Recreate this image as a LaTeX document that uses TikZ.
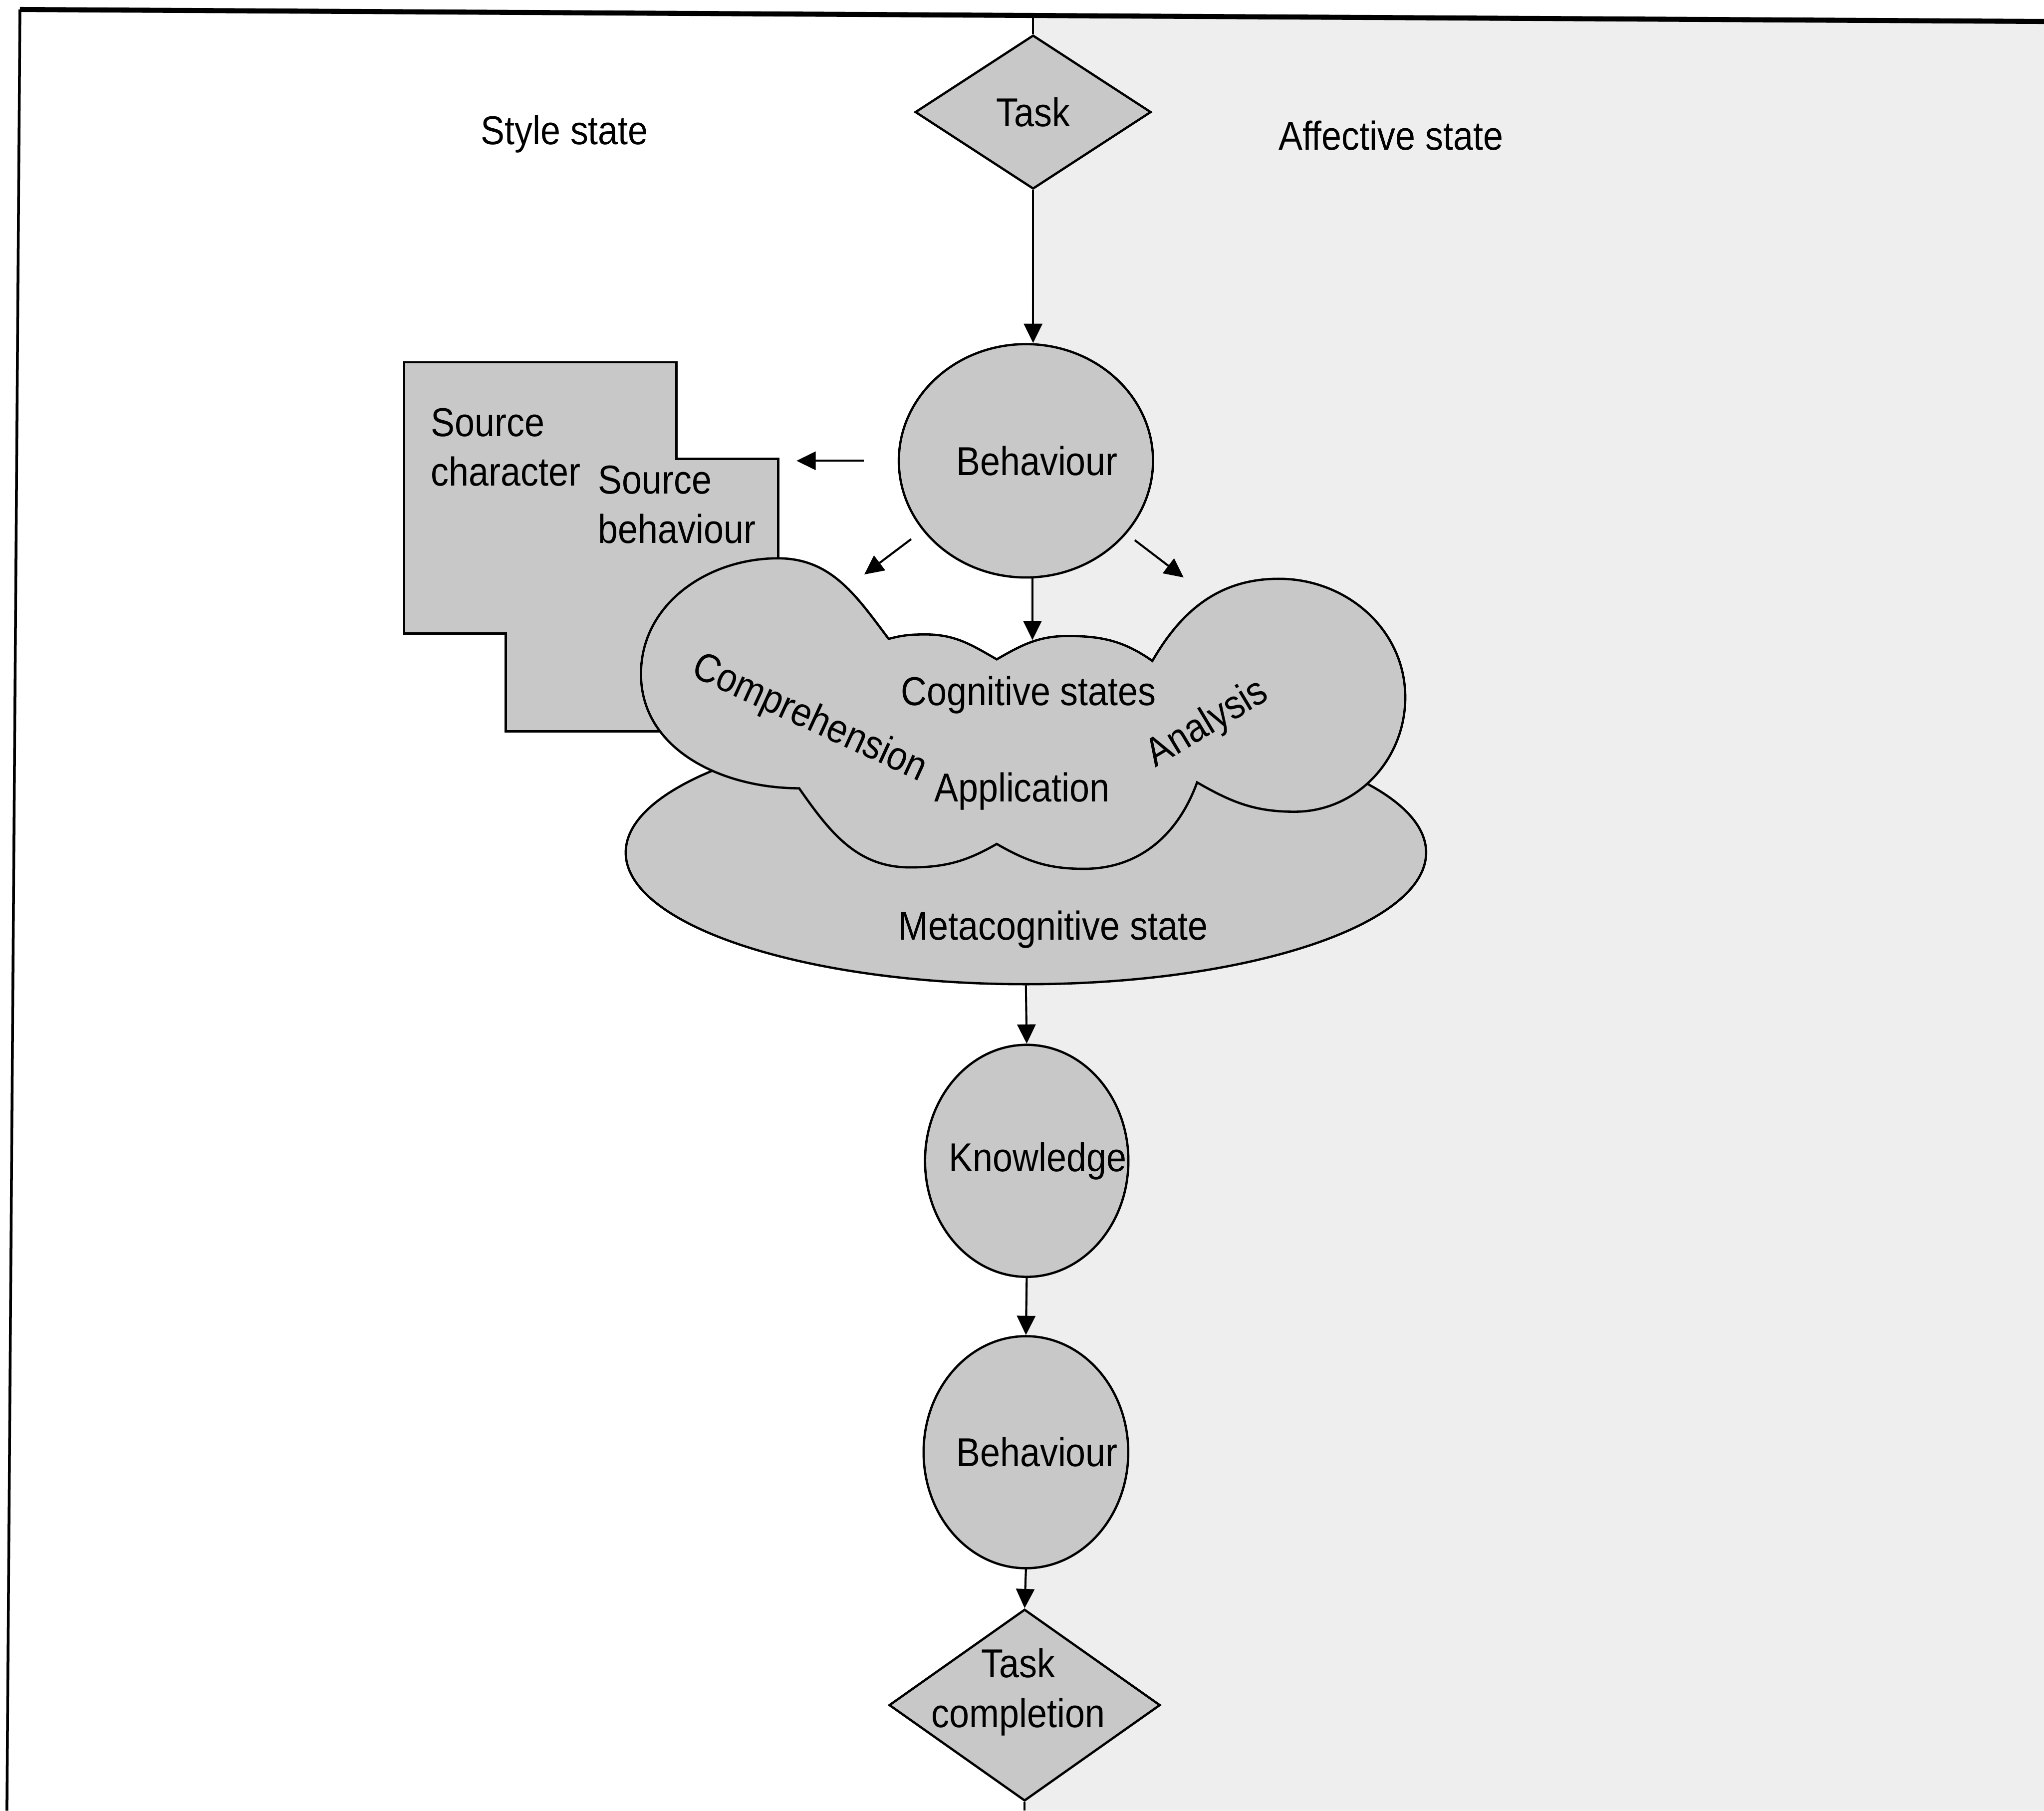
\documentclass[tikz,border=0pt]{standalone}
\usepackage{fontspec}
\setmainfont{Liberation Sans}[FakeStretch=0.89]
\usepackage{tikz}
\usetikzlibrary{shapes.geometric,arrows.meta,positioning,calc}
\definecolor{nodeGray}{RGB}{200,200,200}
\definecolor{paneGray}{RGB}{238,238,238}

\begin{document}
\begin{tikzpicture}[
    lbl/.style={font=\fontsize{8.8pt}{10.8pt}\selectfont, inner sep=0pt},
    state/.style={ellipse, draw, fill=nodeGray, line width=0.5pt, inner sep=0pt},
    statelbl/.style={lbl, xshift=0.85mm},
    decision/.style={diamond, draw, fill=nodeGray, line width=0.5pt, lbl},
    arr/.style={->, line width=0.45pt},
    >={Triangle[length=4.2pt,width=4pt]}
  ]
  \useasboundingbox (0,0) rectangle (15.68,13.89);
  % affective half and frame
  \fill[paneGray] (7.925,13.775) -- (15.68,13.725) -- (15.68,0) -- (7.86,0) -- cycle;
  \draw[line width=0.6pt] (0.053,0) -- (0.153,13.817);
  \draw[line width=1.1pt] (0.153,13.817) -- (15.68,13.725);
  \coordinate (divtop) at (7.925,13.775);
  \coordinate (divbot) at (7.86,0);

  \node[lbl] (style) at (4.33,12.86) {Style state};
  \node[lbl] (affect) at (10.67,12.85) {Affective state};

  % source box
  \draw[fill=nodeGray, line width=0.5pt] (3.10,11.11) -- (5.19,11.11) -- (5.19,10.37)
    -- (5.97,10.37) -- (5.97,8.28) -- (3.88,8.28) -- (3.88,9.03) -- (3.10,9.03) -- cycle;
  \coordinate (srcB) at (5.97,10.37);
  \node[lbl, anchor=west, align=left] (srcchar) at (3.30,10.46) {Source\\character};
  \node[lbl, anchor=west, align=left] (srcbeh) at (4.58,10.02) {Source\\behaviour};

  % axis nodes
  \node[decision, minimum width=1.81cm, minimum height=1.18cm] (task) at (7.925,13.03) {Task};
  \node[state, minimum width=1.95cm, minimum height=1.79cm,
    label={[statelbl]center:Behaviour}] (beh) at (7.87,10.355) {};
  \node[state, minimum width=6.14cm, minimum height=2.02cm] (meta) at (7.87,7.35) {};

  % cloud of cognitive states
  \draw[fill=nodeGray, line width=0.5pt]
    (6.817,8.989) to[out=15,in=180] (7.10,9.023) to[out=0,in=150] (7.646,8.832)
    to[out=30,in=180] (8.192,9.011) to[out=0,in=145] (8.84,8.82)
    to[out=60,in=180] (9.81,9.45) to[out=0,in=90] (10.78,8.54)
    to[out=-90,in=0] (9.93,7.663) to[out=180,in=-30] (9.183,7.888)
    to[out=-110,in=0] (8.314,7.225) to[out=180,in=-30] (7.646,7.416)
    to[out=-150,in=0] (6.979,7.236) to[out=180,in=-55] (6.13,7.843)
    to[out=180,in=-90] (4.917,8.72) to[out=90,in=180] (5.968,9.607)
    to[out=0,in=127] (6.817,8.989) -- cycle;
  \node[lbl] (cogn) at (7.89,8.56) {Cognitive states};
  \node[lbl] (appl) at (7.84,7.82) {Application};
  \node[lbl, anchor=base, rotate=-24.7] (compr) at (6.174,8.301) {Comprehension};
  \node[lbl, anchor=base, rotate=31] (anal) at (9.305,8.266) {Analysis};
  \node[lbl] (metalbl) at (8.08,6.76) {Metacognitive state};

  \node[state, minimum width=1.56cm, minimum height=1.78cm,
    label={[statelbl]center:Knowledge}] (know) at (7.876,4.985) {};
  \node[state, minimum width=1.57cm, minimum height=1.78cm,
    label={[statelbl]center:Behaviour}] (beh2) at (7.87,2.75) {};
  \node[decision, minimum width=2.08cm, minimum height=1.47cm,
    label={[lbl, align=center, xshift=-0.5mm, yshift=1mm]center:{Task\\completion}}] (taskc) at (7.86,0.81) {};

  % connectors
  \coordinate (cloudtop) at (7.92,8.98);
  \coordinate (comprin) at (6.63,9.483);
  \coordinate (analin) at (9.08,9.46);
  \draw[line width=0.45pt] (divtop) -- (task.north);
  \draw[line width=0.45pt] (taskc.south) -- (divbot);
  \draw[arr] (task.south) -- (task.south |- beh.north);
  \draw[arr] (beh.south -| cloudtop) -- (cloudtop);
  \draw[arr, shorten <=0.26cm, shorten >=0.14cm] (beh.west) -- (beh.west -| srcB);
  \draw[arr, shorten <=0.11cm] (beh.-146) -- (comprin);
  \draw[arr, shorten <=0.08cm] (beh.-36) -- (analin);
  \draw[arr] (meta.south) -- (know.north);
  \draw[arr] (know.south) -- (beh2.north);
  \draw[arr] (beh2.south) -- (taskc.north);
\end{tikzpicture}
\end{document}
